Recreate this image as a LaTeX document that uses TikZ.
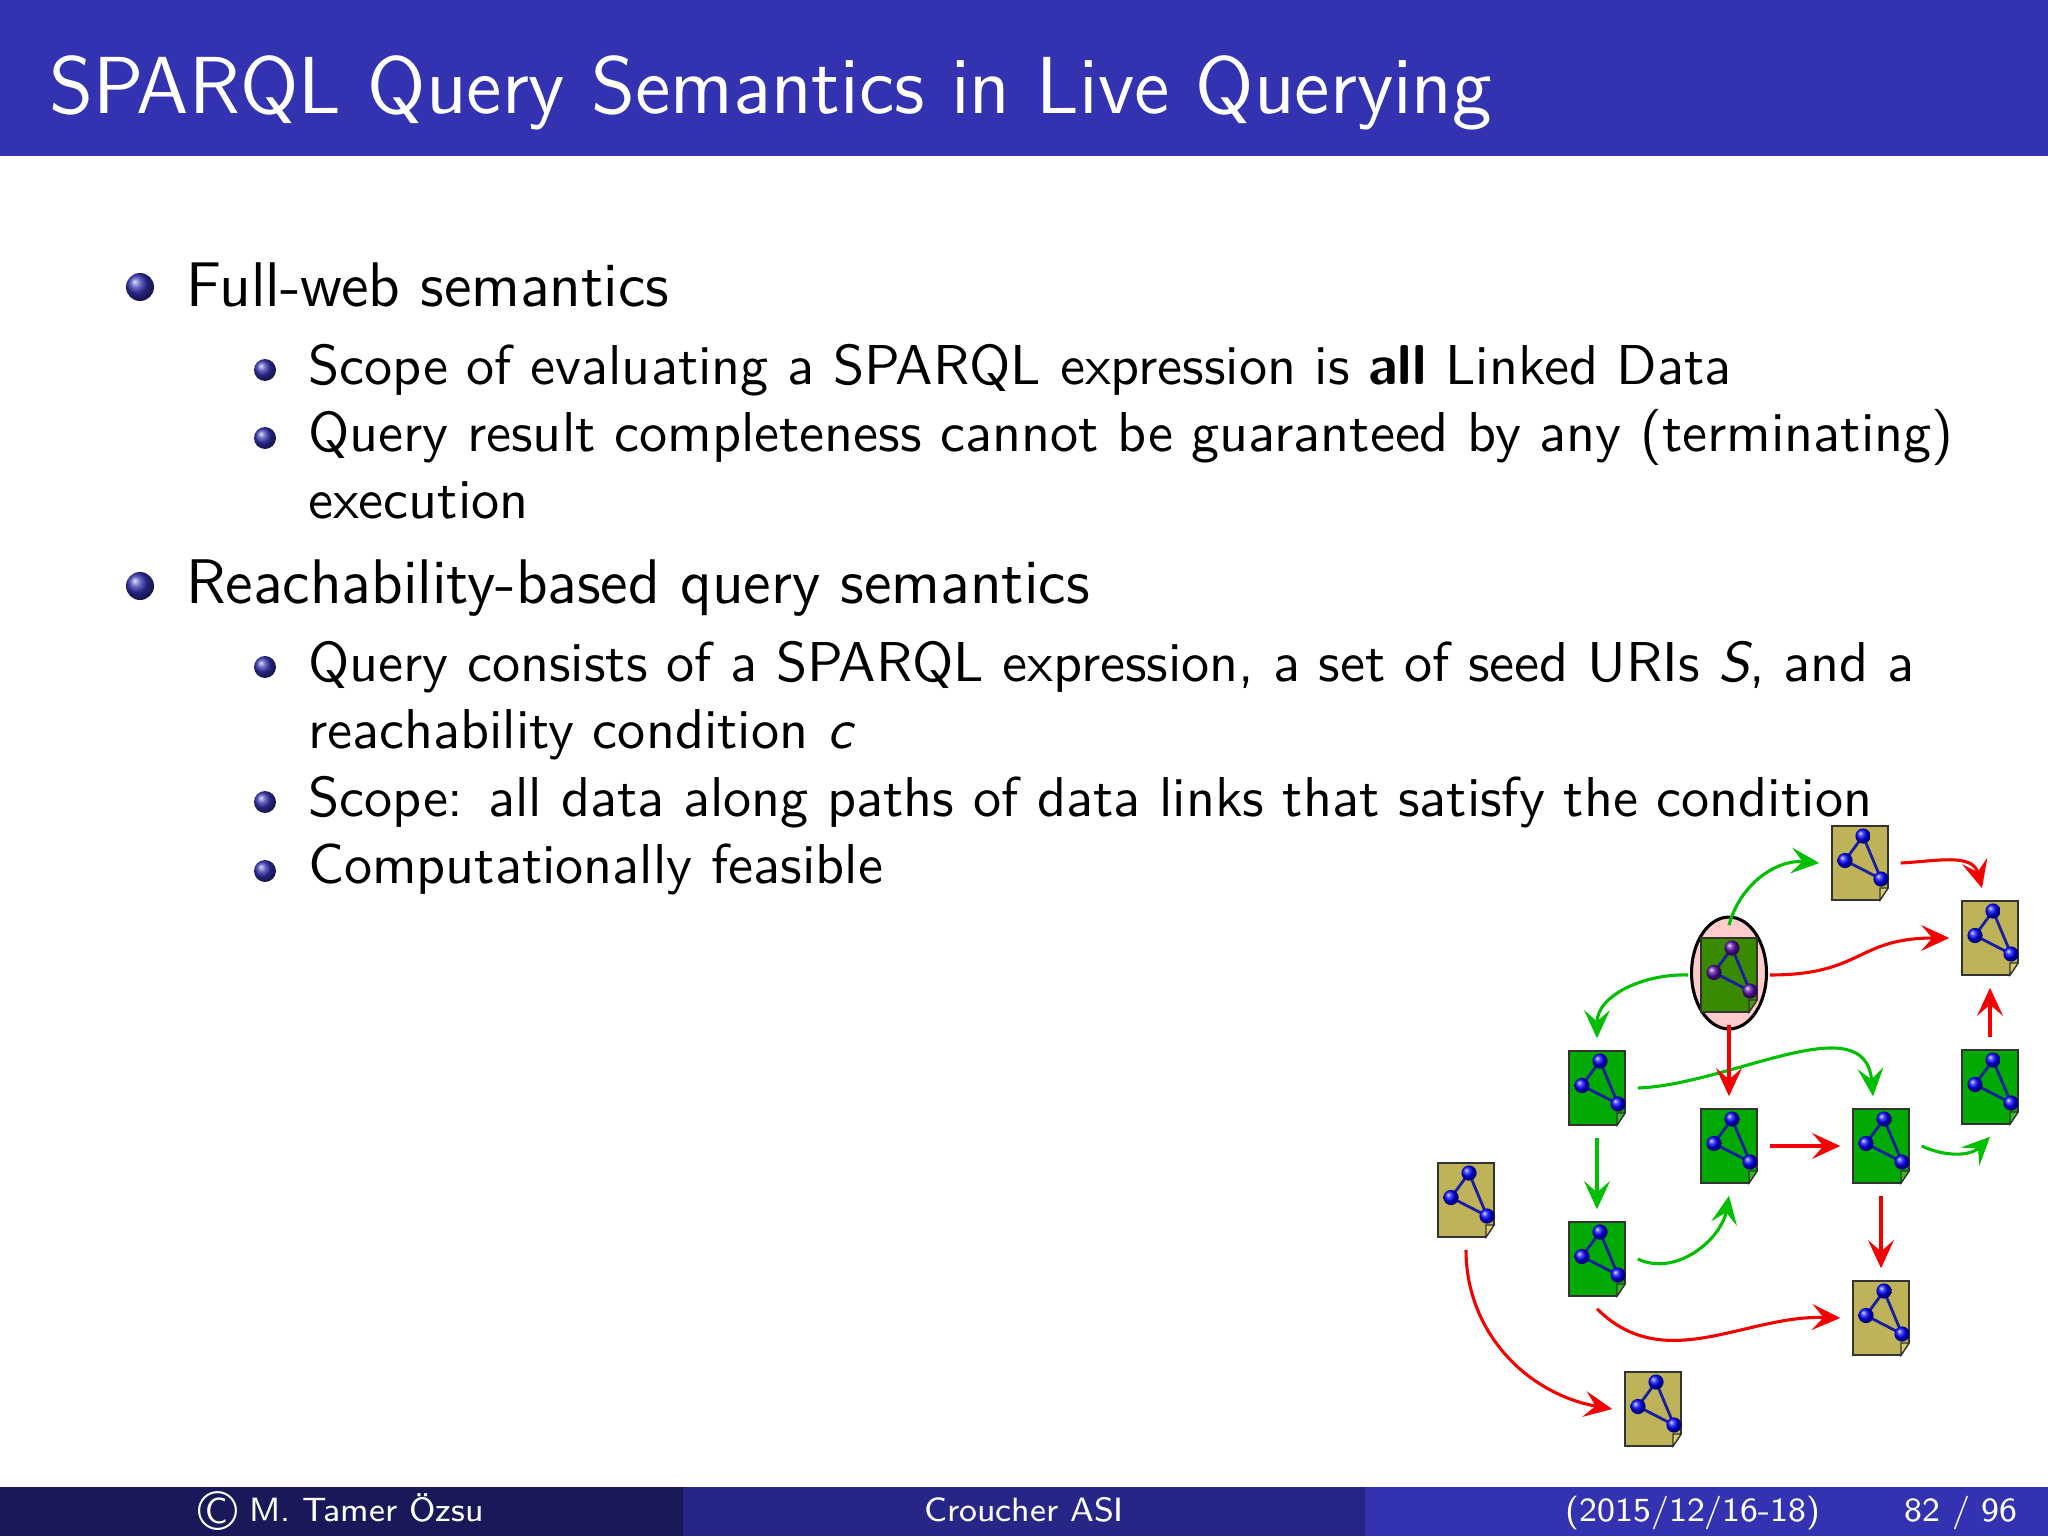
\documentclass[tikz,border=0pt]{standalone}
\usepackage{xcolor}
\usepackage{tikz}
\usetikzlibrary{shapes.geometric, arrows.meta, positioning}

\definecolor{barblue}{HTML}{3333B2}
\definecolor{midblue}{HTML}{262686}
\definecolor{darkblue}{HTML}{19195A}
\definecolor{docgreen}{HTML}{00AA00}
\definecolor{foldgreen}{HTML}{33BB22}
\definecolor{docolive}{HTML}{BFB35A}
\definecolor{foldolive}{HTML}{D8CC70}
\definecolor{docdark}{HTML}{3A8A00}
\definecolor{folddark}{HTML}{4A9A10}
\definecolor{linkgreen}{HTML}{00BE00}
\definecolor{linkred}{HTML}{F50000}
\definecolor{edgeblue}{HTML}{1A1FA0}
\definecolor{ballpurple}{HTML}{5A12A8}
\definecolor{ringpink}{HTML}{FFCCCC}

\tikzset{
	titletext/.style={anchor=base west, inner sep=0pt, text=white, font=\sffamily\fontsize{14.4pt}{16pt}\selectfont},
	itemtext/.style={anchor=base west, inner sep=0pt, font=\sffamily\fontsize{11.22pt}{13pt}\selectfont},
	subtext/.style={anchor=base west, inner sep=0pt, font=\sffamily\fontsize{10pt}{12pt}\selectfont},
	foottext/.style={anchor=base, inner sep=0pt, text=white, font=\sffamily\fontsize{6pt}{8pt}\selectfont},
	docbox/.style={rectangle, inner sep=0pt, outer sep=0.08cm, minimum width=0.35cm, minimum height=0.4625cm},
	ringbox/.style={ellipse, draw=black, line width=0.55pt, fill=ringpink, inner sep=0pt, minimum width=0.469cm, minimum height=0.7cm},
	greenlink/.style={draw=linkgreen, line width=0.55pt, -{Stealth[length=5pt,width=4.6pt,inset=2pt]}},
	redlink/.style={draw=linkred, line width=0.55pt, -{Stealth[length=5pt,width=4.6pt,inset=2pt]}}
}

\begin{document}
\begin{tikzpicture}[x=0.00625cm, y=0.00625cm]
	\useasboundingbox (0,0) rectangle (2048,1536);
	
	% Title bar
	\fill[barblue] (0,1380) rectangle (2048,1536);
	\node[titletext] (title) at (48,1422) {SPARQL Query Semantics in Live Querying};
	
	% Footer
	\fill[darkblue] (0,0) rectangle (683,49);
	\fill[midblue] (683,0) rectangle (1365,49);
	\fill[barblue] (1365,0) rectangle (2048,49);
	\node[foottext] (footauthor) at (341,15) {\raisebox{-1.7pt}{\fontsize{10pt}{10pt}\selectfont\copyright} M. Tamer Özsu};
	\node[foottext] (foottalk) at (1024,15) {Croucher ASI};
	\node[foottext] (footdate) at (1693,15) {(2015/12/16-18)};
	\node[foottext] (footpage) at (1961,15) {82 / 96};
	
	% Bullets
	\foreach \py in {1249,950}
		\shade[ball color=barblue] (140,\py) circle (14);
	\foreach \py in {1166,1098,869,734,665}
		\shade[ball color=barblue] (265,\py) circle (11);
	
	% Text
	\node[itemtext] (fullweb) at (185,1230) {Full-web semantics};
	\node[subtext] (fullscope) at (307,1152) {Scope of evaluating a SPARQL expression is \textbf{all} Linked Data};
	\node[subtext] (fullresult) at (307,1085) {Query result completeness cannot be guaranteed by any (terminating)};
	\node[subtext] (fullexec) at (307,1018) {execution};
	\node[itemtext] (reach) at (185,933) {Reachability-based query semantics};
	\node[subtext] (reachquery) at (307,855) {Query consists of a SPARQL expression, a set of seed URIs \textit{S}, and a};
	\node[subtext] (reachcond) at (307,788) {reachability condition \textit{c}};
	\node[subtext] (reachscope) at (307,720) {Scope: all data along paths of data links that satisfy the condition};
	\node[subtext] (reachfeas) at (307,653) {Computationally feasible};
	
	% Highlighted seed
	\node[ringbox] (ringC) at (1729,563) {};
	
	% Documents
	\foreach \docname/\px/\py/\docfill/\foldfill/\ballfill in {
		docA/1860/673/docolive/foldolive/blue,
		docB/1990/598/docolive/foldolive/blue,
		docC/1729/561/docdark/folddark/ballpurple,
		docD/1597/448/docgreen/foldgreen/blue,
		docE/1729/390/docgreen/foldgreen/blue,
		docF/1881/390/docgreen/foldgreen/blue,
		docG/1990/449/docgreen/foldgreen/blue,
		docH/1466/336/docolive/foldolive/blue,
		docI/1597/277/docgreen/foldgreen/blue,
		docJ/1881/218/docolive/foldolive/blue,
		docK/1653/127/docolive/foldolive/blue}
	{
		\node[docbox] (\docname) at (\px,\py) {};
		\begin{scope}[shift={(\docname.center)}]
			\draw[fill=\docfill, draw=black!80, line width=0.3pt] (-28,37) -- (28,37) -- (28,-25) -- (20,-37) -- (-28,-37) -- cycle;
			\draw[fill=\foldfill, draw=black!80, line width=0.2pt] (20,-25) -- (28,-25) -- (20,-37) -- cycle;
			\draw[edgeblue, line width=0.5pt] (3,27) -- (-15,2.5) -- (21,-16) -- cycle;
			\shade[ball color=\ballfill] (3,27) circle (7.6);
			\shade[ball color=\ballfill] (-15,2.5) circle (7.6);
			\shade[ball color=\ballfill] (21,-16) circle (7.6);
		\end{scope}
	}
	
	% Green links
	\draw[greenlink] (docC.north) to[out=75,in=175] (docA.west);
	\draw[greenlink] (docC.west) to[out=178,in=90] (docD.north);
	\draw[greenlink] (docD.east) to[out=2,in=95] ([xshift=-0.05cm]docF.north);
	\draw[greenlink] (docD.south) -- (docI.north);
	\draw[greenlink] (docI.east) to[out=-25,in=-100] (docE.south);
	\draw[greenlink] (docF.east) to[out=-25,in=-135] (docG.south);
	
	% Red links
	\draw[redlink] (docA.east) to[out=3,in=105,looseness=1.1] ([xshift=-0.05cm]docB.north);
	\draw[redlink] (docC.east) to[out=0,in=180,looseness=1.3] (docB.west);
	\draw[redlink] (docC.south) -- (docE.north);
	\draw[redlink] (docE.east) -- (docF.west);
	\draw[redlink] (docF.south) -- (docJ.north);
	\draw[redlink] (docG.north) -- (docB.south);
	\draw[redlink] (docI.south) to[out=-45,in=178] (docJ.west);
	\draw[redlink] (docH.south) to[out=-90,in=170] (docK.west);
	
\end{tikzpicture}
\end{document}
